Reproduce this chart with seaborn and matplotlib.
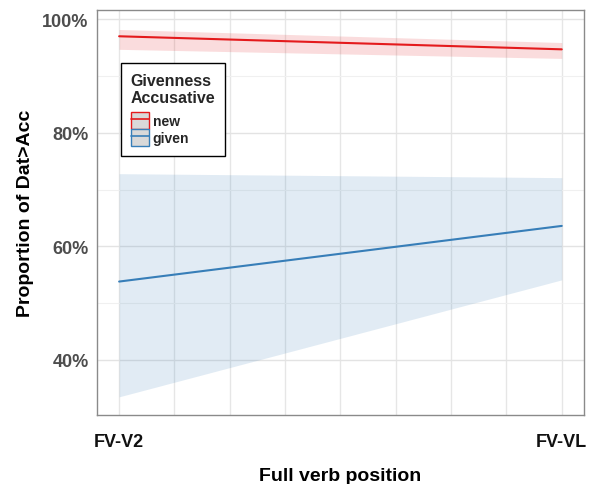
import matplotlib
matplotlib.use("Agg")
import matplotlib.pyplot as plt
import seaborn as sns
import pandas as pd
import numpy as np
from matplotlib.patches import Patch
from matplotlib.lines import Line2D
from matplotlib.ticker import FuncFormatter, MultipleLocator

# Data
positions = ["FV-V2", "FV-VL"]
pos_num = [0.0, 1.0]
groups = ["new", "given"]
new_fit = [0.970, 0.947]
new_lo = [0.947, 0.931]
new_hi = [0.982, 0.959]
given_fit = [0.538, 0.636]
given_lo = [0.335, 0.541]
given_hi = [0.728, 0.721]

colors = {"new": "#E41A1C", "given": "#377EB8"}

df = pd.DataFrame({
    "x": pos_num * 2,
    "fit": new_fit + given_fit,
    "lo": new_lo + given_lo,
    "hi": new_hi + given_hi,
    "group": ["new"] * 2 + ["given"] * 2,
})

sns.set_theme(style="white")
plt.rcParams["font.family"] = ["Liberation Sans", "DejaVu Sans"]

fig = plt.figure(figsize=(5.94, 4.85), dpi=100)
ax = fig.add_axes([0.1633, 0.1423, 0.8197, 0.8347])

for g in groups:
    sub = df[df.group == g]
    ax.fill_between(sub.x, sub.lo, sub.hi, color=colors[g], alpha=0.15, linewidth=0, zorder=2)

sns.lineplot(data=df, x="x", y="fit", hue="group", palette=colors, hue_order=groups,
             ax=ax, linewidth=1.5, legend=False, zorder=3, estimator=None)

ax.set_xlim(-0.05, 1.05)
ax.set_ylim(0.303, 1.016)

ax.set_xticks(pos_num)
ax.set_xticklabels(positions)
ax.xaxis.set_minor_locator(MultipleLocator(0.125))
ax.yaxis.set_major_locator(MultipleLocator(0.2))
ax.yaxis.set_minor_locator(MultipleLocator(0.1))
ax.yaxis.set_major_formatter(FuncFormatter(lambda v, p: f"{v*100:.0f}%"))

# grid
ax.grid(which="major", axis="y", color="#e3e3e3", linewidth=1.0, zorder=0)
ax.grid(which="minor", axis="y", color="#f0f0f0", linewidth=0.8, zorder=0)
ax.set_axisbelow(True)
for x in np.arange(0, 1.0001, 0.125):
    ax.axvline(x, color="#e6e6e6", linewidth=1.0, zorder=0.5)

for s in ax.spines.values():
    s.set_color("#8a8a8a")
    s.set_linewidth(1.0)

ax.tick_params(axis="both", which="major", length=4, color="#8a8a8a", width=1.0)
ax.tick_params(axis="both", which="minor", length=0)
ax.tick_params(axis="y", labelsize=13, labelcolor="#4d4d4d", pad=2)
ax.tick_params(axis="x", labelsize=13, labelcolor="#111111", pad=9)
for lab in ax.get_yticklabels() + ax.get_xticklabels():
    lab.set_fontweight("bold")

ax.set_xlabel("Full verb position", fontsize=14, fontweight="bold", color="black", labelpad=12)
ax.set_ylabel("Proportion of Dat>Acc", fontsize=14, fontweight="bold", color="black", labelpad=6)

handles = []
for g in groups:
    handles.append((Patch(facecolor="#d9d9d9", edgecolor=colors[g], linewidth=1.0),
                    Line2D([], [], color=colors[g], linewidth=1.2)))
leg = ax.legend(handles, groups, title="Givenness\nAccusative", loc="upper left",
                bbox_to_anchor=(0.049, 0.869), borderaxespad=0, frameon=True,
                fancybox=False, edgecolor="black", framealpha=1,
                prop={"size": 10, "weight": "bold"}, handlelength=1.3, handleheight=1.5,
                handletextpad=0.3, labelspacing=0.0, borderpad=0.7)
leg.get_frame().set_linewidth(1.0)
leg.get_title().set_fontsize(11.5)
leg.get_title().set_fontweight("bold")
leg._legend_box.align = "left"
leg._legend_box.sep = 5
leg.set_zorder(5)

fig.savefig("out.png", dpi=100)
